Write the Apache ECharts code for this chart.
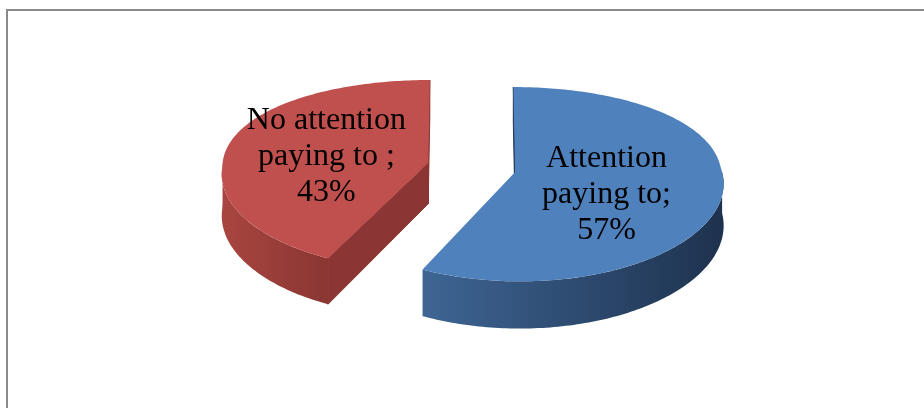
<!DOCTYPE html>
<html><head><meta charset="utf-8">
<script src="https://cdn.jsdelivr.net/npm/echarts@6/dist/echarts.min.js"></script>
<style>html,body{margin:0;padding:0;background:#fff}#c{width:924px;height:408px}</style>
</head><body><div id="c"></div>
<script>
// ---- data ----
const categories = ['Attention\npaying to;', 'No attention\npaying to ;'];
const values = [57, 43];
const percentSuffix = '%';

// ---- layout / style ----
const CX = 471.5, CY = 167.5;       // pie centre (screen)
const RA = 206, RB = 94.5;           // horizontal / vertical radii
const PERSP_Y = 0.125;               // vertical perspective factor
const PERSP_X_FRONT = 0.1, PERSP_X_BACK = 0.04;
const DEPTH = 41;                    // extrusion height
const EXPLODE = 0.216;               // explode distance (fraction of radius)
const LABEL_R = 0.47;
const LABEL_OFFSETS = [[-5, 13], [-8, 3]];
const TOP_COLORS = ['#4f81bd', '#c0504d'];
const WALL_COLORS = [['#3e6594', '#1e324e'], ['#a9453f', '#8a3633']];
const RADIAL_COLORS = ['#213756', '#8b3634'];

const total = values.reduce((a, b) => a + b, 0);
const starts = [], ends = [];
let acc = 0;
values.forEach(v => { starts.push(acc / total * 360); acc += v; ends.push(acc / total * 360); });

function proj(X, Z, h) {
  const sy = 1 / (1 + PERSP_Y * Z);
  const sx = 1 / (1 + (Z < 0 ? PERSP_X_FRONT : PERSP_X_BACK) * Z);
  return [CX + RA * X * sx, CY - RB * Z * sy + h * DEPTH * sy];
}
const EYE_Z = -1 / PERSP_Y;

function renderItem(params, api) {
  const i = params.dataIndex;
  const v = api.value(0);
  const a0 = starts[i], a1 = ends[i];
  const mid = (a0 + a1) / 2 * Math.PI / 180;
  const ox = EXPLODE * Math.sin(mid), oz = EXPLODE * Math.cos(mid);
  const pt = (th, r, h) => { const t = th * Math.PI / 180; return proj(ox + r * Math.sin(t), oz + r * Math.cos(t), h); };
  const children = [];

  // radial walls
  const radial = (th, normalDeg) => {
    const n = normalDeg * Math.PI / 180, t = th * Math.PI / 180;
    const nx = Math.sin(n), nz = Math.cos(n);
    const px = ox + 0.5 * Math.sin(t), pz = oz + 0.5 * Math.cos(t);
    const dot = nx * (0 - px) + nz * (EYE_Z - pz);
    if (dot <= 0) return;
    children.push({
      type: 'polygon',
      shape: { points: [pt(0, 0, 0), pt(th, 1, 0), pt(th, 1, 1), pt(0, 0, 1)] },
      style: { fill: RADIAL_COLORS[i], stroke: RADIAL_COLORS[i], lineWidth: 1 }
    });
  };
  radial(a0, a0 - 90);
  radial(a1, a1 + 90);

  // outer curved wall (front part)
  const w0 = Math.max(a0, 90), w1 = Math.min(a1, 270);
  if (w1 > w0) {
    const n = Math.ceil(w1 - w0);
    const top = [], bot = [];
    for (let k = 0; k <= n; k++) {
      const t = w0 + (w1 - w0) * k / n;
      top.push(pt(t, 1, 0));
      bot.push(pt(t, 1, 1));
    }
    children.push({
      type: 'polygon',
      shape: { points: top.concat(bot.reverse()) },
      style: {
        fill: new echarts.graphic.LinearGradient(0, 0, 1, 0, [
          { offset: 0, color: WALL_COLORS[i][0] },
          { offset: 1, color: WALL_COLORS[i][1] }
        ])
      }
    });
  }

  // top face
  const face = [pt(0, 0, 0)];
  const nf = Math.ceil(a1 - a0);
  for (let k = 0; k <= nf; k++) face.push(pt(a0 + (a1 - a0) * k / nf, 1, 0));
  children.push({
    type: 'polygon',
    shape: { points: face },
    style: { fill: TOP_COLORS[i] }
  });

  // label
  const lp = pt((a0 + a1) / 2, LABEL_R, 0);
  children.push({
    type: 'text',
    style: {
      text: categories[i] + '\n' + v + percentSuffix,
      x: lp[0] + LABEL_OFFSETS[i][0],
      y: lp[1] + LABEL_OFFSETS[i][1],
      fill: '#000',
      fontSize: 32,
      fontFamily: '"Liberation Serif", "DejaVu Serif", serif',
      align: 'center',
      verticalAlign: 'middle',
      lineHeight: 36
    }
  });
  return { type: 'group', children };
}

const chart = echarts.init(document.getElementById('c'), null, { renderer: 'canvas' });
chart.setOption({
  animation: false,
  backgroundColor: '#fff',
  graphic: [{
    type: 'rect', silent: true, z: 0,
    shape: { x: 7, y: 10, width: 1000, height: 500 },
    style: { fill: 'none', stroke: '#8a8a8a', lineWidth: 2 }
  }],
  series: [{
    type: 'custom',
    coordinateSystem: 'none',
    renderItem: renderItem,
    data: values.map((v, i) => ({ name: categories[i], value: v }))
  }]
});
</script>
</body></html>
